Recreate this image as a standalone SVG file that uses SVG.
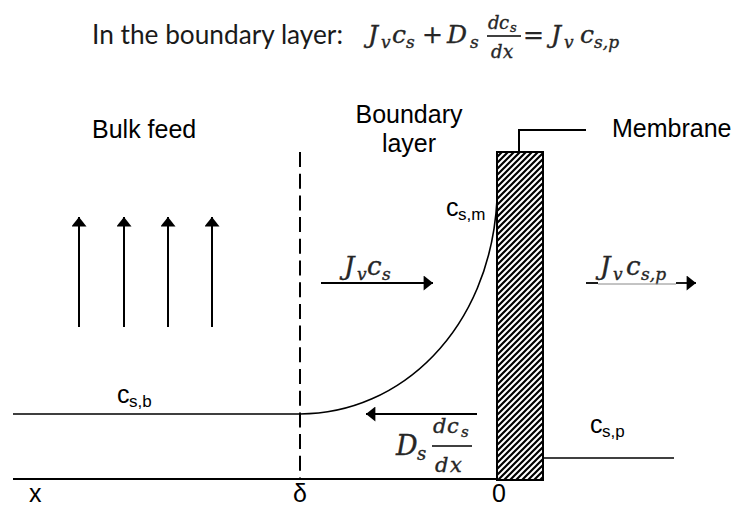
<svg xmlns="http://www.w3.org/2000/svg" width="737" height="508" viewBox="0 0 737 508">
<style>
.lbl{font-family:"Liberation Sans",Arial,sans-serif;font-size:25px;fill:#000}
.sub{font-size:17px}
.m{font-family:"DejaVu Serif","Liberation Serif",serif;font-style:italic;fill:#262626;stroke:#262626;stroke-width:0.35}
.up{font-style:normal}
.ln{stroke:#000;fill:none}
</style>
<defs>
<marker id="ah" viewBox="0 0 10 16" refX="10" refY="8" markerWidth="10" markerHeight="15" markerUnits="userSpaceOnUse" orient="auto">
<path d="M0,0 L10,8 L0,16 z" fill="#000"/>
</marker>
<pattern id="hatch" patternUnits="userSpaceOnUse" width="6" height="6">
<rect width="6" height="6" fill="#fff"/>
<path d="M-1.5,1.5 L1.5,-1.5 M0,6 L6,0 M4.5,7.5 L7.5,4.5" stroke="#000" stroke-width="2.2"/>
</pattern>
</defs>

<g id="title">
<text x="92" y="44" font-family="Lato,'Open Sans',sans-serif" font-size="27" fill="#1a1a1a" textLength="251" lengthAdjust="spacingAndGlyphs">In the boundary layer:</text>
<text class="m" font-size="25"><tspan x="368" y="43">J</tspan><tspan x="381" y="48" font-size="17">v</tspan><tspan x="392" y="43">c</tspan><tspan x="406" y="48" font-size="17">s</tspan><tspan class="up" x="422" y="43">+</tspan><tspan x="447" y="43">D</tspan><tspan x="470" y="48" font-size="17">s</tspan></text>
<text class="m" font-size="18"><tspan x="488" y="29">d</tspan><tspan x="499" y="29">c</tspan><tspan x="510" y="32" font-size="13">s</tspan></text>
<line class="ln" x1="487" y1="36" x2="521" y2="36" stroke-width="1.3"/>
<text class="m" font-size="18"><tspan x="491" y="58">d</tspan><tspan x="503" y="58">x</tspan></text>
<text class="m" font-size="25"><tspan class="up" x="523" y="43">=</tspan><tspan x="551" y="43">J</tspan><tspan x="564" y="48" font-size="17">v</tspan><tspan x="580" y="43">c</tspan><tspan x="594" y="48" font-size="17">s,p</tspan></text>
</g>

<g id="bulk-feed">
<text class="lbl" x="92" y="138">Bulk feed</text>
</g>

<g id="boundary-layer">
<text class="lbl" x="409" y="123" text-anchor="middle">Boundary</text>
<text class="lbl" x="409" y="152" text-anchor="middle">layer</text>
</g>

<g id="membrane">
<rect x="497" y="152" width="46" height="328" fill="url(#hatch)" stroke="#000" stroke-width="2"/>
<polyline class="ln" points="519,152 519,130 586,130" stroke-width="2"/>
<text class="lbl" x="612" y="137">Membrane</text>
</g>

<g id="labels">
<text class="lbl"><tspan x="446" y="216">c</tspan><tspan class="sub" x="458" y="220">s,m</tspan></text>
<text class="lbl"><tspan x="117" y="403">c</tspan><tspan class="sub" x="129" y="407">s,b</tspan></text>
<text class="lbl"><tspan x="590" y="433">c</tspan><tspan class="sub" x="602" y="437">s,p</tspan></text>
<text class="lbl" x="29" y="502">x</text>
<text class="lbl" x="293" y="502">δ</text>
<text class="lbl" x="492" y="502">0</text>
<text class="m" font-size="26"><tspan x="344" y="275">J</tspan><tspan x="357" y="280" font-size="17">v</tspan><tspan x="367" y="275">c</tspan><tspan x="382" y="280" font-size="17">s</tspan></text>
<text class="m" font-size="26"><tspan x="600" y="275">J</tspan><tspan x="613" y="280" font-size="17">v</tspan><tspan x="626" y="275">c</tspan><tspan x="641" y="280" font-size="17">s,p</tspan></text>
<text class="m" font-size="27"><tspan x="396" y="455">D</tspan><tspan x="417" y="460" font-size="18">s</tspan></text>
<text class="m" font-size="21"><tspan x="433" y="433">d</tspan><tspan x="447" y="433">c</tspan><tspan x="461" y="437" font-size="15">s</tspan></text>
<line class="ln" x1="432" y1="446" x2="472" y2="446" stroke-width="1.3"/>
<text class="m" font-size="21"><tspan x="435" y="472">d</tspan><tspan x="450" y="472">x</tspan></text>
</g>

<g id="connectors">
<line class="ln" x1="79" y1="327" x2="79" y2="217" stroke-width="2" marker-end="url(#ah)"/>
<line class="ln" x1="124" y1="327" x2="124" y2="217" stroke-width="2" marker-end="url(#ah)"/>
<line class="ln" x1="168" y1="327" x2="168" y2="217" stroke-width="2" marker-end="url(#ah)"/>
<line class="ln" x1="212" y1="327" x2="212" y2="217" stroke-width="2" marker-end="url(#ah)"/>
<line class="ln" x1="300" y1="152" x2="300" y2="479" stroke-width="2" stroke-dasharray="15 6.7"/>
<line class="ln" x1="13" y1="479" x2="497" y2="479" stroke-width="2"/>
<path class="ln" d="M13,414 L300,414 C400,414 490,330 497,200" stroke-width="1.6"/>
<line class="ln" x1="321" y1="283" x2="433" y2="283" stroke-width="1.8" marker-end="url(#ah)"/>
<line class="ln" x1="586" y1="283" x2="598" y2="283" stroke-width="1.8"/>
<line x1="598" y1="284" x2="676" y2="284" stroke="#888" stroke-width="1"/>
<line class="ln" x1="676" y1="283" x2="696" y2="283" stroke-width="1.8" marker-end="url(#ah)"/>
<line class="ln" x1="477" y1="414" x2="366" y2="414" stroke-width="1.8" marker-end="url(#ah)"/>
<line class="ln" x1="543" y1="458" x2="674" y2="458" stroke-width="1.6"/>
</g>
</svg>
